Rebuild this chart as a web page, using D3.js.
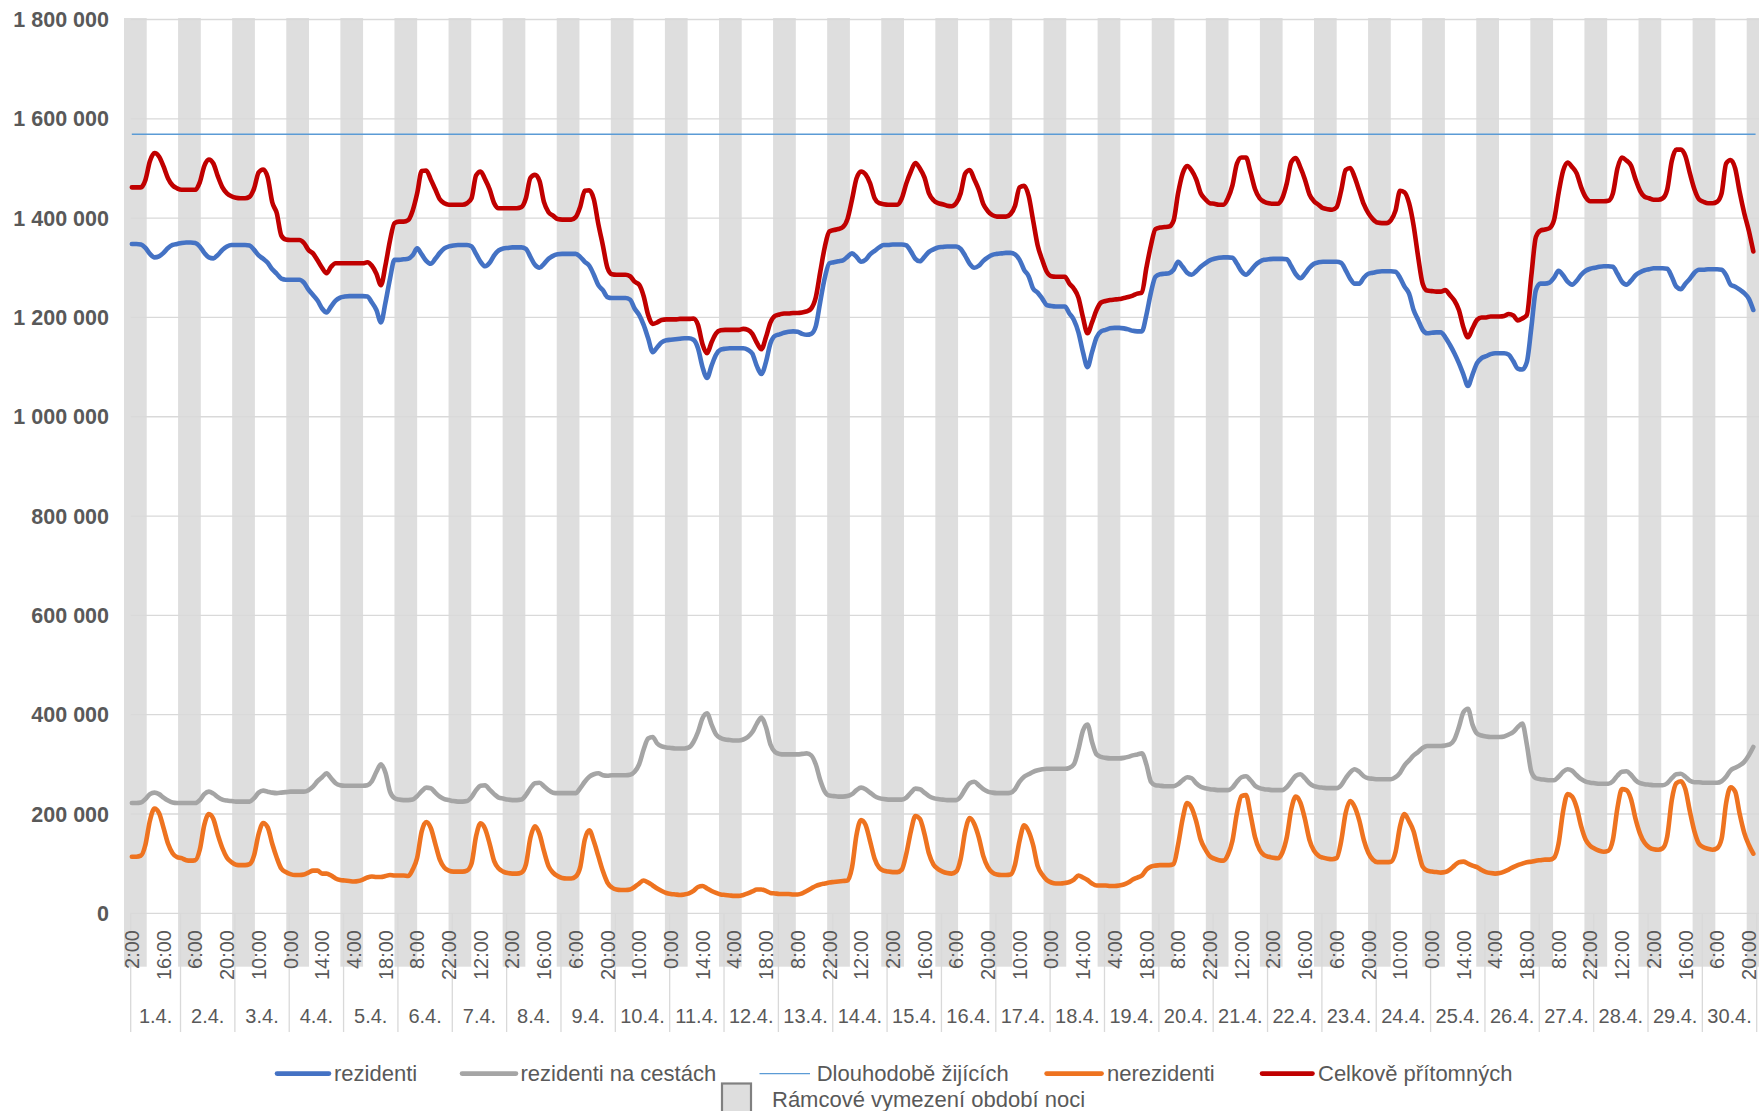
<!DOCTYPE html>
<html><head><meta charset="utf-8">
<script src="https://cdn.jsdelivr.net/npm/d3@7"></script>
<style>
html,body{margin:0;padding:0;background:#fff;}
svg{display:block;font-family:"Liberation Sans",Arial,sans-serif;}
</style></head><body>
<svg id="chart" width="1759" height="1111"></svg>
<script>
// ---------------- DATA ----------------
const dayLabels = ["1.4.","2.4.","3.4.","4.4.","5.4.","6.4.","7.4.","8.4.","9.4.","10.4.",
  "11.4.","12.4.","13.4.","14.4.","15.4.","16.4.","17.4.","18.4.","19.4.","20.4.",
  "21.4.","22.4.","23.4.","24.4.","25.4.","26.4.","27.4.","28.4.","29.4.","30.4."];
// hourly categories: 1.4. starts at 2:00, the other days 0:00–23:00
const firstDayStartHour = 2;
// a label every 14 categories
const hourTickLabels = ["2:00","16:00","6:00","20:00","10:00","0:00","14:00","4:00","18:00","8:00","22:00","12:00",
  "2:00","16:00","6:00","20:00","10:00","0:00","14:00","4:00","18:00","8:00","22:00","12:00",
  "2:00","16:00","6:00","20:00","10:00","0:00","14:00","4:00","18:00","8:00","22:00","12:00",
  "2:00","16:00","6:00","20:00","10:00","0:00","14:00","4:00","18:00","8:00","22:00","12:00",
  "2:00","16:00","6:00","20:00"];
const yTickValues = [0,200,400,600,800,1000,1200,1400,1600,1800]; // thousands
const yTickLabels = ["0","200 000","400 000","600 000","800 000","1 000 000","1 200 000","1 400 000","1 600 000","1 800 000"];

// values in thousands, every 2 hours (1.4.: 2:00–22:00, other days 0:00–22:00)
const rezidenti = [
 1348,1348,1347,1340,1328,1321,1323,1330,1340,1346,1348,
 1350,1351,1351,1350,1343,1330,1321,1319,1326,1336,1343,1346,
 1346,1346,1346,1345,1336,1325,1318,1310,1297,1288,1278,1276,
 1276,1276,1276,1270,1256,1245,1234,1218,1210,1222,1234,1240,
 1242,1243,1243,1243,1243,1242,1230,1215,1190,1230,1278,1316,
 1316,1317,1318,1325,1339,1327,1314,1308,1318,1330,1339,1343,
 1345,1346,1346,1346,1343,1328,1312,1303,1310,1325,1335,1339,
 1340,1341,1341,1341,1338,1322,1306,1300,1308,1318,1324,1327,
 1328,1328,1328,1328,1322,1312,1304,1286,1265,1255,1241,1239,
 1239,1239,1239,1236,1218,1205,1185,1158,1130,1140,1150,1154,
 1155,1156,1157,1158,1158,1155,1138,1100,1078,1103,1125,1135,
 1137,1138,1138,1138,1138,1135,1127,1102,1086,1110,1148,1163,
 1166,1169,1171,1172,1171,1167,1165,1167,1182,1232,1280,1309,
 1311,1313,1315,1322,1329,1322,1312,1316,1327,1334,1341,1346,
 1346,1347,1347,1347,1345,1333,1318,1313,1322,1332,1337,1341,
 1342,1343,1343,1343,1338,1324,1308,1300,1304,1314,1321,1326,
 1328,1329,1330,1330,1327,1316,1296,1283,1258,1250,1238,1225,
 1223,1222,1222,1222,1208,1195,1170,1130,1100,1130,1160,1172,
 1175,1178,1179,1179,1178,1176,1173,1172,1172,1205,1250,1282,
 1287,1288,1289,1296,1312,1302,1290,1286,1293,1302,1309,1315,
 1318,1320,1321,1321,1320,1308,1293,1286,1294,1305,1312,1316,
 1317,1318,1318,1318,1317,1303,1287,1279,1288,1300,1308,1311,
 1312,1312,1312,1312,1310,1295,1278,1268,1268,1280,1288,1290,
 1292,1293,1293,1293,1292,1280,1262,1248,1215,1195,1175,1168,
 1169,1170,1170,1160,1145,1128,1108,1085,1062,1085,1108,1118,
 1122,1126,1128,1128,1128,1125,1112,1097,1095,1110,1180,1255,
 1268,1268,1270,1280,1294,1285,1272,1266,1274,1286,1294,1298,
 1300,1302,1303,1303,1302,1288,1272,1266,1274,1285,1291,1295,
 1297,1299,1299,1299,1298,1282,1262,1257,1268,1278,1290,1296,
 1296,1297,1297,1297,1296,1285,1266,1262,1256,1249,1238,1215
];
const rezidentiNaCestach = [
 222,222,223,230,240,243,240,233,227,223,222,
 222,222,222,222,228,240,245,241,234,229,227,226,
 225,225,225,225,232,243,247,245,243,242,243,244,
 245,245,245,245,248,255,266,274,282,272,262,258,
 257,257,257,257,257,258,266,285,300,283,245,232,
 229,228,228,229,236,246,253,252,243,235,230,228,
 226,225,225,226,234,248,257,258,249,240,233,231,
 229,228,228,229,238,252,262,263,256,248,243,242,
 242,242,242,242,252,265,275,280,282,278,277,278,
 278,278,278,279,285,300,330,352,355,342,336,334,
 333,332,332,332,334,345,365,393,403,380,360,353,
 350,349,348,348,350,355,365,382,394,375,340,325,
 321,320,320,320,320,321,322,318,300,268,245,237,
 236,235,235,236,240,248,253,250,243,236,232,230,
 229,229,229,229,233,243,251,250,243,236,232,230,
 229,228,228,228,235,250,262,265,258,250,245,243,
 242,242,242,243,250,265,275,280,285,288,290,291,
 291,291,291,291,293,300,330,368,380,345,320,315,
 313,312,312,312,313,315,318,320,322,300,265,258,
 257,256,256,256,260,268,274,272,262,255,252,250,
 249,248,248,248,253,265,274,276,268,257,252,250,
 249,248,248,248,254,266,277,280,272,262,256,254,
 253,252,252,252,258,272,284,290,285,276,272,271,
 270,270,270,270,274,283,298,308,318,325,333,337,
 337,337,337,338,340,350,375,405,412,380,362,358,
 356,355,355,355,356,360,365,375,382,340,285,272,
 270,269,268,268,275,285,290,287,278,270,265,263,
 262,261,261,261,266,277,285,286,279,268,262,260,
 259,258,258,258,262,272,280,281,275,267,264,264,
 263,263,263,263,266,275,288,293,298,305,318,335
];
const dlouhodobeZijicich = 1569;
const nerezidenti = [
 114,114,116,138,187,211,202,172,140,121,113,
 111,107,106,107,128,178,200,190,158,131,112,103,
 98,97,97,99,117,160,182,173,140,112,90,83,
 79,77,77,78,82,86,86,80,80,76,70,67,
 66,65,64,65,68,72,74,73,73,75,77,76,
 76,76,75,88,112,165,184,172,140,108,92,86,
 84,84,84,86,100,155,181,170,140,105,90,84,
 81,80,80,82,98,152,175,160,125,95,82,75,
 71,70,70,74,93,148,167,145,115,85,62,52,
 48,47,47,48,53,60,66,62,56,50,45,41,
 39,38,37,38,40,45,53,55,50,45,41,38,
 37,36,35,35,37,40,44,48,48,45,41,40,
 39,39,39,38,38,40,45,50,55,58,60,62,
 63,64,65,66,92,158,188,178,145,110,92,86,
 84,83,83,88,120,165,196,190,160,120,98,89,
 84,81,80,84,110,165,192,180,153,115,93,82,
 78,77,77,78,98,146,177,165,137,95,78,67,
 62,60,60,61,63,68,76,72,67,60,56,56,
 56,55,55,56,58,62,68,72,76,88,94,96,
 97,97,97,99,138,190,222,212,185,148,129,115,
 110,107,106,118,146,202,236,238,198,153,128,117,
 114,112,111,122,153,210,235,223,190,148,126,116,
 112,110,109,111,145,202,226,214,187,148,122,108,
 103,103,103,104,123,175,200,185,165,127,94,86,
 84,83,82,83,88,96,103,104,100,96,93,87,
 83,81,80,81,84,88,93,97,100,103,104,106,
 107,108,108,112,140,205,240,235,213,175,148,136,
 130,126,124,126,148,212,250,248,230,190,160,142,
 133,129,128,131,155,228,262,266,250,205,165,140,
 133,130,128,131,150,222,254,245,200,162,138,120
];
const celkovePritomnych = [
 1462,1462,1462,1477,1515,1531,1524,1504,1480,1466,1460,
 1457,1457,1457,1457,1472,1505,1518,1510,1484,1462,1450,1444,
 1441,1440,1440,1443,1460,1492,1498,1482,1432,1410,1365,1357,
 1356,1356,1356,1350,1336,1329,1315,1300,1289,1302,1309,1309,
 1309,1309,1309,1309,1309,1311,1304,1288,1265,1305,1355,1390,
 1393,1393,1396,1415,1450,1495,1496,1478,1458,1438,1430,1427,
 1427,1427,1427,1430,1440,1486,1494,1478,1458,1430,1420,1420,
 1420,1420,1420,1422,1440,1481,1487,1475,1432,1412,1405,1398,
 1397,1397,1397,1402,1423,1455,1456,1438,1388,1345,1300,1287,
 1286,1286,1286,1283,1272,1266,1243,1205,1187,1190,1195,1196,
 1196,1196,1197,1197,1197,1198,1185,1146,1128,1150,1168,1174,
 1175,1175,1175,1175,1177,1175,1167,1149,1136,1160,1190,1203,
 1206,1208,1208,1209,1209,1210,1212,1218,1240,1292,1342,1373,
 1376,1378,1382,1398,1437,1480,1494,1488,1470,1440,1430,1428,
 1427,1427,1427,1440,1470,1494,1511,1500,1482,1450,1436,1430,
 1428,1425,1424,1430,1450,1490,1497,1478,1457,1428,1414,1406,
 1403,1403,1403,1408,1425,1462,1465,1445,1395,1345,1316,1292,
 1283,1282,1282,1282,1268,1258,1240,1200,1168,1190,1215,1230,
 1233,1235,1236,1237,1239,1241,1244,1248,1250,1300,1345,1378,
 1381,1382,1383,1395,1450,1490,1505,1496,1478,1450,1438,1430,
 1429,1427,1427,1440,1466,1510,1522,1522,1492,1458,1440,1433,
 1430,1429,1429,1440,1470,1513,1521,1502,1478,1448,1434,1427,
 1420,1418,1417,1422,1455,1497,1501,1482,1455,1428,1410,1398,
 1391,1390,1390,1396,1415,1455,1452,1430,1385,1322,1268,1254,
 1253,1252,1252,1255,1245,1234,1215,1180,1160,1178,1195,1200,
 1200,1202,1202,1202,1203,1207,1204,1194,1198,1205,1285,1362,
 1375,1377,1380,1396,1450,1495,1512,1503,1490,1462,1442,1434,
 1434,1434,1434,1435,1450,1500,1522,1516,1506,1478,1455,1443,
 1440,1437,1437,1440,1458,1515,1538,1538,1525,1490,1458,1438,
 1433,1430,1430,1433,1450,1510,1517,1500,1452,1410,1375,1333
];
const seriesNames = ["rezidenti","rezidenti na cestách","Dlouhodobě žijících","nerezidenti","Celkově přítomných"];
const nightLegendLabel = "Rámcové vymezení období noci";

// ---------------- LAYOUT ----------------
const W = 1759, H = 1111;
const plot = {left: 130.7, right: 1756.7, top: 19.5, bottom: 913.3};
const textColor = "#595959", gridColor = "#d9d9d9", bandColor = "#dedede";
const colors = {
  rez: "#4472C4", ces: "#A5A5A5", dlo: "#5B9BD5", nerez: "#EE7320", celk: "#C00000"
};

// hourly categories
const categories = [];
dayLabels.forEach((d, di) => {
  const h0 = di === 0 ? firstDayStartHour : 0;
  for (let h = h0; h < 24; h++) categories.push({day: di, hour: h});
});
const dayStartIdx = dayLabels.map((d, di) => categories.findIndex(c => c.day === di));
dayStartIdx.push(categories.length);

const svg = d3.select("#chart");
const x = d3.scaleBand().domain(d3.range(categories.length)).range([plot.left, plot.right]).padding(0);
const cx = i => x(i) + x.bandwidth() / 2;
const y = d3.scaleLinear().domain([0, 1800]).range([plot.bottom, plot.top]);

// night bands: own (secondary) axis, one band per night
const nights = d3.range(dayLabels.length + 1);
const xNight = d3.scaleLinear().domain([0, nights.length]).range([124.0, 124.0 + nights.length * 54.09]);
const nightW = 0.42 * (xNight(1) - xNight(0));
svg.append("g").selectAll("rect").data(nights).join("rect")
  .attr("x", k => xNight(k)).attr("width", nightW)
  .attr("y", 18).attr("height", 966.7 - 18)
  .attr("fill", bandColor);

// gridlines
svg.append("g").selectAll("line").data(yTickValues).join("line")
  .attr("x1", plot.left).attr("x2", W)
  .attr("y1", d => y(d)).attr("y2", d => y(d))
  .attr("stroke", gridColor).attr("stroke-width", 1.3);

// y labels
svg.append("g").selectAll("text").data(yTickValues).join("text")
  .attr("x", 109).attr("y", d => y(d)).attr("dy", "0.35em")
  .attr("text-anchor", "end").attr("font-weight", "bold").attr("font-size", 21.5)
  .attr("fill", textColor)
  .text((d, i) => yTickLabels[i]);

// day separators
svg.append("g").selectAll("line").data(dayStartIdx).join("line")
  .attr("x1", i => i < categories.length ? x(i) : plot.right)
  .attr("x2", i => i < categories.length ? x(i) : plot.right)
  .attr("y1", plot.bottom).attr("y2", 1032)
  .attr("stroke", gridColor).attr("stroke-width", 1.3);

// hour tick labels
svg.append("g").selectAll("text").data(hourTickLabels).join("text")
  .attr("transform", (d, k) => `translate(${cx(k * 14)},930) rotate(-90)`)
  .attr("text-anchor", "end").attr("dy", "0.36em")
  .attr("font-size", 20).attr("fill", textColor)
  .text(d => d);

// day labels
svg.append("g").selectAll("text").data(dayLabels).join("text")
  .attr("x", (d, di) => {
    const a = x(dayStartIdx[di]);
    const b = dayStartIdx[di + 1] < categories.length ? x(dayStartIdx[di + 1]) : plot.right;
    return (a + b) / 2;
  })
  .attr("y", 1016).attr("dy", "0.35em").attr("text-anchor", "middle")
  .attr("font-size", 20).attr("fill", textColor)
  .text(d => d);

// series
const toPts = arr => arr.map((v, i) => ({idx: i * 2, v}));
const line = d3.line().x(d => cx(d.idx)).y(d => y(d.v)).curve(d3.curveMonotoneX);
const gSeries = svg.append("g").attr("fill", "none").attr("stroke-linejoin", "round").attr("stroke-linecap", "round");
gSeries.append("path").attr("d", line(toPts(rezidenti))).attr("stroke", colors.rez).attr("stroke-width", 4.6);
gSeries.append("path").attr("d", line(toPts(rezidentiNaCestach))).attr("stroke", colors.ces).attr("stroke-width", 4.6);
gSeries.append("path").attr("d", d3.line().x(d => cx(d.idx)).y(d => y(d.v))([{idx: 0, v: dlouhodobeZijicich}, {idx: categories.length - 1, v: dlouhodobeZijicich}]))
  .attr("stroke", colors.dlo).attr("stroke-width", 1.4).attr("stroke-linecap", "butt");
gSeries.append("path").attr("d", line(toPts(nerezidenti))).attr("stroke", colors.nerez).attr("stroke-width", 4.6);
gSeries.append("path").attr("d", line(toPts(celkovePritomnych))).attr("stroke", colors.celk).attr("stroke-width", 4.6);

// legend
const legendY = 1073.6;
const legendItems = [
  {name: seriesNames[0], color: colors.rez, w: 4.6, x1: 277, x2: 329, tx: 334},
  {name: seriesNames[1], color: colors.ces, w: 4.6, x1: 462, x2: 516, tx: 520.5},
  {name: seriesNames[2], color: colors.dlo, w: 1.4, x1: 759.5, x2: 810, tx: 816.7},
  {name: seriesNames[3], color: colors.nerez, w: 4.6, x1: 1046.6, x2: 1101.6, tx: 1107},
  {name: seriesNames[4], color: colors.celk, w: 4.6, x1: 1262, x2: 1312.5, tx: 1318}
];
const gl = svg.append("g");
gl.selectAll("line").data(legendItems).join("line")
  .attr("x1", d => d.x1).attr("x2", d => d.x2).attr("y1", legendY).attr("y2", legendY)
  .attr("stroke", d => d.color).attr("stroke-width", d => d.w)
  .attr("stroke-linecap", d => d.w > 2 ? "round" : "butt");
gl.selectAll("text").data(legendItems).join("text")
  .attr("x", d => d.tx).attr("y", legendY).attr("dy", "0.35em")
  .attr("font-size", 22).attr("fill", textColor).text(d => d.name);
gl.append("rect").attr("x", 722).attr("y", 1083.5).attr("width", 29).attr("height", 29)
  .attr("fill", bandColor).attr("stroke", "#808080").attr("stroke-width", 2.2);
gl.append("text").attr("x", 772).attr("y", 1099).attr("dy", "0.35em")
  .attr("font-size", 22).attr("fill", textColor).text(nightLegendLabel);
</script>
</body></html>
